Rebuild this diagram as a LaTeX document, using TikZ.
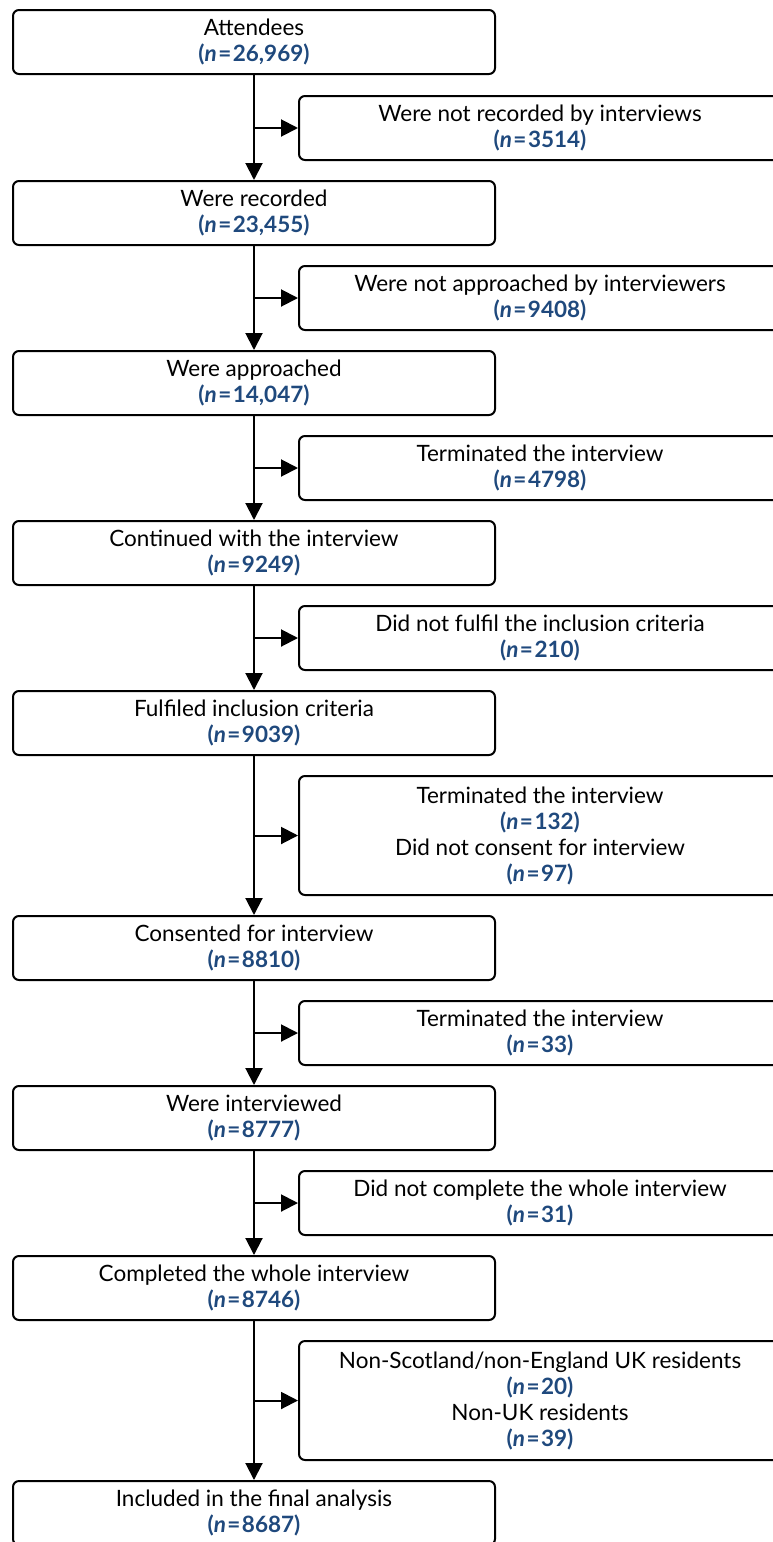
\documentclass[tikz,border=0pt]{standalone}
\usepackage{fontspec}
\setmainfont{Lato}
\usetikzlibrary{arrows.meta}
\definecolor{nblue}{RGB}{31,73,125}
\newcommand{\nval}[1]{{\color{nblue}\bfseries(\textit{n}\kern1.5pt=\kern1.5pt#1)}}
\begin{document}
\begin{tikzpicture}[x=1pt,y=-1pt,
  box/.style={draw=black, line width=2pt, rounded corners=6pt, minimum width=482pt, minimum height=64pt, align=center, inner sep=0pt, font=\fontsize{22.5}{26}\selectfont},
  tallbox/.style={box, minimum height=119pt},
  arr/.style={draw=black, line width=2pt, -{Triangle[length=17pt,width=17pt]}}]
\useasboundingbox (0,0) rectangle (773,1542);
\node[box] (l1) at (254,42) {Attendees\\\nval{26,969}};
\node[box] (r1) at (540,128) {Were not recorded by interviews\\\nval{3514}};
\node[box] (l2) at (254,213) {Were recorded\\\nval{23,455}};
\node[box] (r2) at (540,298) {Were not approached by interviewers\\\nval{9408}};
\node[box] (l3) at (254,383) {Were approached\\\nval{14,047}};
\node[box] (r3) at (540,468) {Terminated the interview\\\nval{4798}};
\node[box] (l4) at (254,553) {Continued with the interview\\\nval{9249}};
\node[box] (r4) at (540,638) {Did not fulfil the inclusion criteria\\\nval{210}};
\node[box] (l5) at (254,723) {Fulfiled inclusion criteria\\\nval{9039}};
\node[tallbox] (r5) at (540,835.5) {Terminated the interview\\\nval{132}\\Did not consent for interview\\\nval{97}};
\node[box] (l6) at (254,948) {Consented for interview\\\nval{8810}};
\node[box] (r6) at (540,1033) {Terminated the interview\\\nval{33}};
\node[box] (l7) at (254,1118) {Were interviewed\\\nval{8777}};
\node[box] (r7) at (540,1203) {Did not complete the whole interview\\\nval{31}};
\node[box] (l8) at (254,1288) {Completed the whole interview\\\nval{8746}};
\node[tallbox] (r8) at (540,1400.5) {Non-Scotland/non-England UK residents\\\nval{20}\\Non-UK residents\\\nval{39}};
\node[box] (l9) at (254,1513) {Included in the final analysis\\\nval{8687}};
\foreach \a/\r/\b in {l1/r1/l2, l2/r2/l3, l3/r3/l4, l4/r4/l5, l5/r5/l6, l6/r6/l7, l7/r7/l8, l8/r8/l9}{
  \draw[arr] (\a.south) -- (\b.north);
  \draw[arr] (\a.south |- \r.west) -- (\r.west);
}
\end{tikzpicture}
\end{document}
